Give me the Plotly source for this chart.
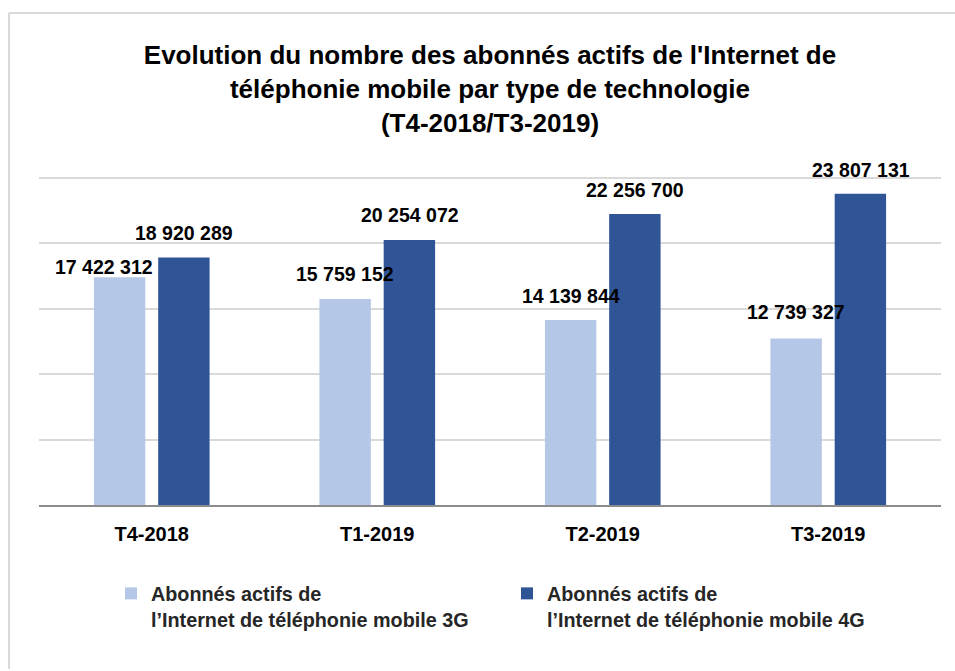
import plotly.graph_objects as go

trimestres = ["T4-2018", "T1-2019", "T2-2019", "T3-2019"]
abonnes_3g = [17422312, 15759152, 14139844, 12739327]
abonnes_4g = [18920289, 20254072, 22256700, 23807131]

nom_3g = "Abonnés actifs de<br>l’Internet de téléphonie mobile 3G"
nom_4g = "Abonnés actifs de<br>l’Internet de téléphonie mobile 4G"

titre = ("Evolution du nombre des abonnés actifs de l'Internet de<br>"
         "téléphonie mobile par type de technologie<br>(T4-2018/T3-2019)")

# decalage des etiquettes (px), comme dans le graphique Excel d'origine
decal_3g = [(-16, 10), (0, 25), (0, 24), (0, 26)]
decal_4g = [(0, 25), (0, 25), (0, 24), (0, 24)]

police = "Liberation Sans, Arial, sans-serif"
bleu_clair = "#b4c7e7"
bleu_fonce = "#2f5597"
gris_cadre = "#d9d9d9"

W, H = 955, 671


def fmt(v):
    return f"{v:,}".replace(",", " ")


fig = go.Figure()
fig.add_trace(go.Bar(x=trimestres, y=abonnes_3g, name=nom_3g,
                     marker=dict(color=bleu_clair, line=dict(width=0))))
fig.add_trace(go.Bar(x=trimestres, y=abonnes_4g, name=nom_4g,
                     marker=dict(color=bleu_fonce, line=dict(width=0))))

annots = []
for serie, decal, side in [(abonnes_3g, decal_3g, -32.25), (abonnes_4g, decal_4g, 32.25)]:
    for t, v, (dx, dy) in zip(trimestres, serie, decal):
        annots.append(dict(x=t, y=v, text=fmt(v), showarrow=False,
                           xshift=side + dx, yshift=dy, yanchor="middle",
                           font=dict(family=police, size=19.5, color="#000000", weight="bold")))

fig.update_layout(
    width=W, height=H,
    margin=dict(l=39, r=14, t=177, b=166),
    paper_bgcolor="white", plot_bgcolor="white",
    barmode="group", bargap=0.43, bargroupgap=0.2,
    title=dict(text=titre, x=0.5, xref="paper", xanchor="center",
               y=1 - 64 / H, yref="container", yanchor="top",
               font=dict(family=police, size=26, color="#000000", weight="bold")),
    showlegend=True,
    legend=dict(orientation="h", xref="container", yref="container",
                x=111 / W, y=1 - 574 / H, xanchor="left", yanchor="top",
                entrywidth=351, entrywidthmode="pixels", valign="top",
                font=dict(family=police, size=19.8, color="#262626", weight="bold"),
                traceorder="normal"),
    annotations=annots,
    shapes=[
        # cadre du graphique : bord haut
        dict(type="line", xref="paper", yref="paper", x0=-0.0333, x1=1.0155, y0=1.5, y1=1.5,
             line=dict(color=gris_cadre, width=2), layer="below"),
        # bord gauche, reste dans la figure
        dict(type="line", xref="paper", yref="paper", x0=-0.0333, x1=-0.0333, y0=-0.5, y1=1.5,
             line=dict(color=gris_cadre, width=2), layer="below"),
    ],
)

fig.update_xaxes(showline=True, linecolor="#8c8c8c", linewidth=2,
                 ticks="outside", ticklen=10, tickcolor="rgba(0,0,0,0)",
                 tickfont=dict(family=police, size=20, color="#000000", weight="bold"))
fig.update_yaxes(range=[0, 25080000], dtick=5000000, showticklabels=False,
                 showgrid=True, gridcolor="#d9d9d9", gridwidth=2, zeroline=False)

page = ("document.body.style.margin = '0px';"
        "document.body.style.overflow = 'hidden';"
        "document.documentElement.style.overflow = 'hidden';")
fig.write_html("out.html", config={"displayModeBar": False}, post_script=page)
